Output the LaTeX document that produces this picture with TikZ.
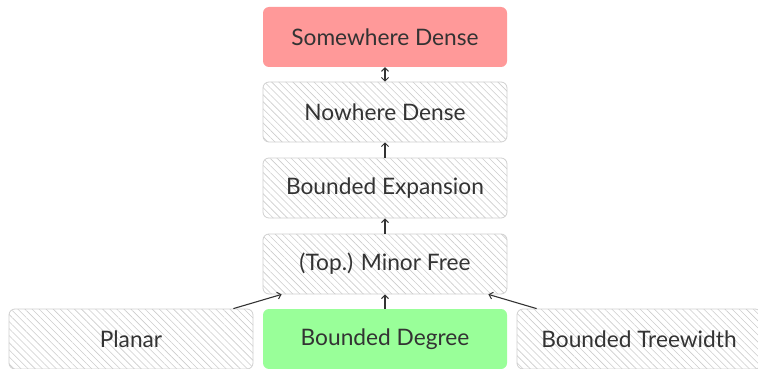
\documentclass[tikz,border=0pt]{standalone}
\usepackage{fontspec}
\setmainfont{Lato}
\usetikzlibrary{patterns.meta,arrows.meta,calc}
\definecolor{ink}{HTML}{333333}
\definecolor{hatchgray}{HTML}{CCCCCC}
\definecolor{edgegray}{HTML}{D0D0D0}
\definecolor{densered}{HTML}{FF9999}
\definecolor{degreegreen}{HTML}{99FF99}
\tikzset{
  classbox/.style={rectangle, rounded corners=6pt, minimum width=244pt,
    minimum height=60pt, inner sep=0pt, text=ink, font=\fontsize{22.7}{26}\selectfont},
  hatched/.style={classbox, draw=edgegray, line width=0.8pt,
    pattern={Lines[angle=-45,distance=5pt,line width=0.6pt]}, pattern color=hatchgray},
  solidred/.style={classbox, fill=densered},
  solidgreen/.style={classbox, fill=degreegreen},
  tip/.tip={Straight Barb[length=3.5pt,width=7pt,line width=1pt]},
  link/.style={draw=ink, line width=1.1pt, -tip},
  bilink/.style={draw=ink, line width=1.1pt, tip-tip},
}
\begin{document}
\begin{tikzpicture}[x=1pt,y=-1pt]
  \useasboundingbox (0,0) rectangle (758,369);
  \node[solidred]   (sd)  at (385,37)  {Somewhere Dense};
  \node[hatched]    (nd)  at (385,112) {Nowhere Dense};
  \node[hatched]    (be)  at (385,188) {Bounded Expansion};
  \node[hatched]    (mf)  at (385,264) {(Top.) Minor Free};
  \node[hatched]    (pl)  at (131,339) {Planar};
  \node[solidgreen] (bd)  at (385,339) {Bounded Degree};
  \node[hatched]    (tw)  at (639,339) {Bounded Treewidth};

  \draw[bilink] (nd.north) -- (sd.south);
  \draw[link] (be.north) -- (nd.south);
  \draw[link] (mf.north) -- (be.south);
  \draw[link] (bd.north) -- (mf.south);
  \draw[link] ($(pl.north east)+(-20,0)$) -- ($(mf.south west)+(19,0)$);
  \draw[link] ($(tw.north west)+(20,0)$) -- ($(mf.south east)+(-19,0)$);
\end{tikzpicture}
\end{document}
